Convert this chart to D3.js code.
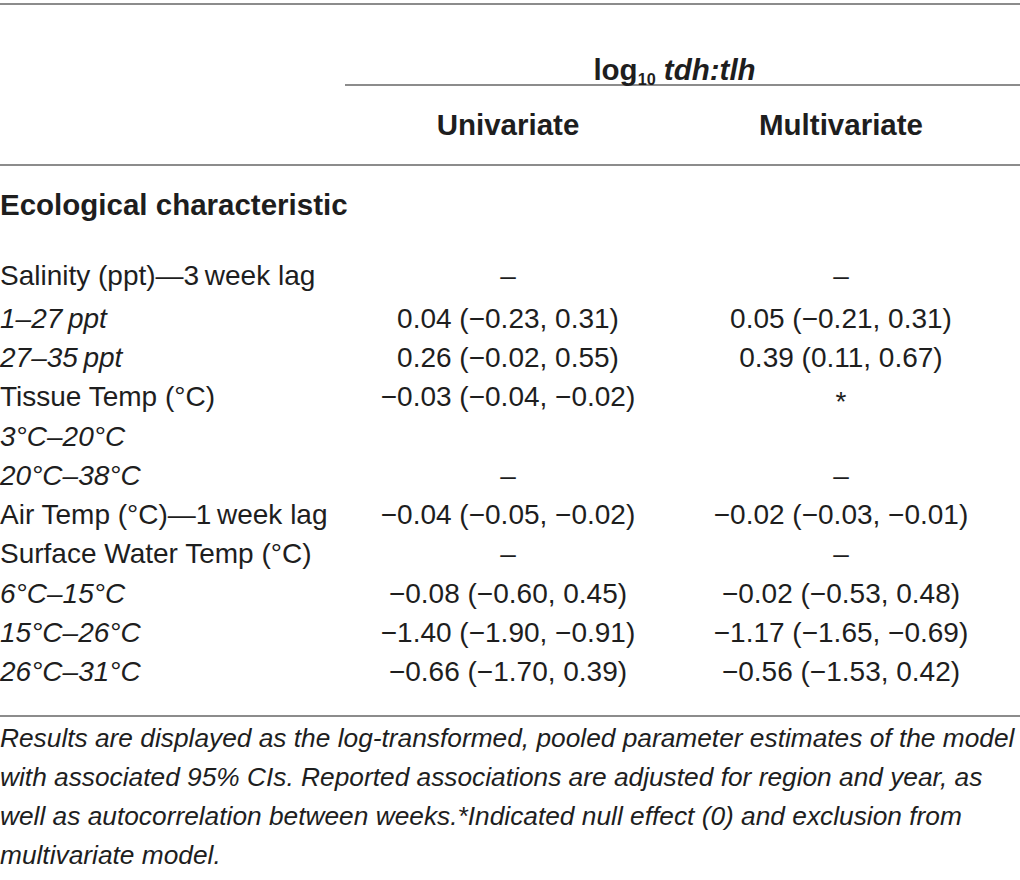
<!DOCTYPE html>
<html>
<head>
<meta charset="utf-8">
<script src="https://cdn.jsdelivr.net/npm/d3@7"></script>
<style>
  html, body { margin: 0; padding: 0; background: #fff; }
  text { font-family: "Liberation Sans", Arial, sans-serif; fill: #1e1e1e; }
</style>
</head>
<body>
<div id="chart"></div>
<script>
// table content
const groupTitle = ["log", "10", " tdh:tlh"];
const columns = ["Univariate", "Multivariate"];
const rowHeader = "Ecological characteristic";
const labels = [
  "Salinity (ppt)\u20143\u2009week lag",
  "1\u201327\u2009ppt",
  "27\u201335\u2009ppt",
  "Tissue Temp (\u00b0C)",
  "3\u00b0C\u201320\u00b0C",
  "20\u00b0C\u201338\u00b0C",
  "Air Temp (\u00b0C)\u20141\u2009week lag",
  "Surface Water Temp (\u00b0C)",
  "6\u00b0C\u201315\u00b0C",
  "15\u00b0C\u201326\u00b0C",
  "26\u00b0C\u201331\u00b0C",
];
// 0 = characteristic, 1 = category within it
const levels = [0, 1, 1, 0, 1, 1, 0, 0, 1, 1, 1];
const univariate = [
  "\u2013",
  "0.04 (\u22120.23, 0.31)",
  "0.26 (\u22120.02, 0.55)",
  "\u22120.03 (\u22120.04, \u22120.02)",
  "",
  "\u2013",
  "\u22120.04 (\u22120.05, \u22120.02)",
  "\u2013",
  "\u22120.08 (\u22120.60, 0.45)",
  "\u22121.40 (\u22121.90, \u22120.91)",
  "\u22120.66 (\u22121.70, 0.39)",
];
const multivariate = [
  "\u2013",
  "0.05 (\u22120.21, 0.31)",
  "0.39 (0.11, 0.67)",
  "*",
  "",
  "\u2013",
  "\u22120.02 (\u22120.03, \u22120.01)",
  "\u2013",
  "\u22120.02 (\u22120.53, 0.48)",
  "\u22121.17 (\u22121.65, \u22120.69)",
  "\u22120.56 (\u22121.53, 0.42)",
];
const footnote = [
  "Results are displayed as the log-transformed, pooled parameter estimates of the model",
  "with associated 95% CIs. Reported associations are adjusted for region and year, as",
  "well as autocorrelation between weeks.*Indicated null effect (0) and exclusion from",
  "multivariate model.",
];

const width = 1020;
const height = 880;
const fontSize = 28;
const boldSize = 29.5;
const noteSize = 26.3;
const ruleColor = "#8c8c8c";

const svg = d3
  .select("#chart")
  .append("svg")
  .attr("width", width)
  .attr("height", height);

// column centres
const xCol = d3.scalePoint().domain(columns).range([508, 841]);

// row baselines
const yRow = d3
  .scaleLinear()
  .domain([1, labels.length - 1])
  .range([328, 681]);
const rowBase = (i) => (i === 0 ? 285 : yRow(i));

const rule = (x1, x2, y) =>
  svg
    .append("line")
    .attr("x1", x1)
    .attr("x2", x2)
    .attr("y1", y)
    .attr("y2", y)
    .attr("stroke", ruleColor)
    .attr("stroke-width", 2);

rule(0, width, 4);
rule(345, width, 85);
rule(0, width, 165);
rule(0, width, 716);

// spanning header
const title = svg
  .append("text")
  .attr("x", (xCol(columns[0]) + xCol(columns[1])) / 2)
  .attr("y", 80)
  .attr("text-anchor", "middle")
  .attr("font-weight", "bold")
  .attr("font-size", boldSize);
title.append("tspan").text(groupTitle[0]);
title
  .append("tspan")
  .attr("font-size", boldSize * 0.55)
  .attr("dy", 5)
  .text(groupTitle[1]);
title
  .append("tspan")
  .attr("dy", -5)
  .attr("font-style", "italic")
  .text(groupTitle[2]);

svg
  .selectAll("text.colhead")
  .data(columns)
  .join("text")
  .attr("class", "colhead")
  .attr("x", (d) => xCol(d))
  .attr("y", 135)
  .attr("text-anchor", "middle")
  .attr("font-weight", "bold")
  .attr("font-size", boldSize)
  .text((d) => d);

svg
  .append("text")
  .attr("x", 0)
  .attr("y", 215)
  .attr("font-weight", "bold")
  .attr("font-size", boldSize)
  .text(rowHeader);

// body rows
const rows = labels.map((label, i) => ({
  label,
  level: levels[i],
  values: [univariate[i], multivariate[i]],
  i,
}));

const g = svg
  .selectAll("g.row")
  .data(rows)
  .join("g")
  .attr("class", "row")
  .attr("transform", (d) => `translate(0,${rowBase(d.i)})`);

g.append("text")
  .attr("x", 0)
  .attr("font-size", fontSize)
  .attr("font-style", (d) => (d.level ? "italic" : "normal"))
  .text((d) => d.label);

g.selectAll("text.val")
  .data((d) => d.values.map((v, k) => ({ v, col: columns[k] })))
  .join("text")
  .attr("class", "val")
  .attr("x", (d) => xCol(d.col))
  .attr("text-anchor", "middle")
  .attr("font-size", fontSize)
  .attr("dy", (d) => (d.v === "*" ? 5 : 0))
  .attr("fill", (d) => (d.v === "*" ? "#6a6a6a" : null))
  .text((d) => d.v);

// footnote
svg
  .selectAll("text.note")
  .data(footnote)
  .join("text")
  .attr("class", "note")
  .attr("x", 0)
  .attr("y", (d, i) => 747 + i * 39)
  .attr("font-style", "italic")
  .attr("font-size", noteSize)
  .text((d) => d);
</script>
</body>
</html>
